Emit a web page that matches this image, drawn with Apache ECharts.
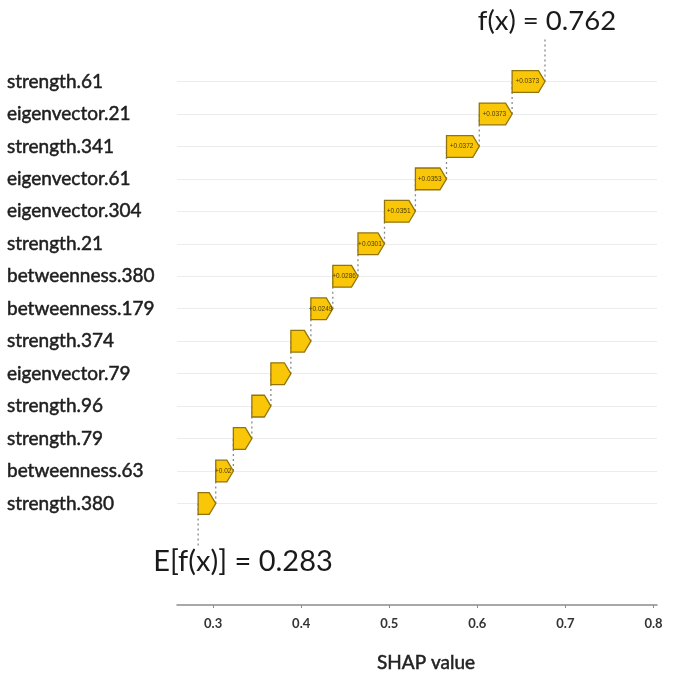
<!DOCTYPE html>
<html>
<head>
<meta charset="utf-8">
<script src="https://cdn.jsdelivr.net/npm/echarts@6/dist/echarts.min.js"></script>
<style>
  html, body { margin: 0; padding: 0; background: #ffffff; }
  #chart { width: 679px; height: 685px; }
</style>
</head>
<body>
<div id="chart"></div>
<script>
// Feature names, top row first
const features = [
  'strength.61', 'eigenvector.21', 'strength.341', 'eigenvector.61',
  'eigenvector.304', 'strength.21', 'betweenness.380', 'betweenness.179',
  'strength.374', 'eigenvector.79', 'strength.96', 'strength.79',
  'betweenness.63', 'strength.380'
];
// SHAP contribution of each feature (same order)
const contributions = [
  0.0373, 0.0373, 0.0372, 0.0353,
  0.0351, 0.0301, 0.0286, 0.0249,
  0.0227, 0.0227, 0.0216, 0.0210,
  0.0200, 0.0200
];
// Label text printed inside each arrow ('' = none)
const barLabels = [
  '+0.0373', '+0.0373', '+0.0372', '+0.0353',
  '+0.0351', '+0.0301', '+0.0286', '+0.0249',
  '', '', '', '',
  '+0.02', ''
];
const baseValue = 0.283;      // E[f(x)]
const outputValue = 0.762;    // f(x) as printed
const xTicks = [0.3, 0.4, 0.5, 0.6, 0.7, 0.8];

// Running start/end for each feature, accumulated from the bottom row up
const starts = new Array(features.length);
const ends = new Array(features.length);
let acc = baseValue;
for (let i = features.length - 1; i >= 0; i--) {
  starts[i] = acc;
  acc += contributions[i];
  ends[i] = acc;
}
const rows = features.map((f, i) => [i, starts[i], ends[i], barLabels[i]]);

const chart = echarts.init(document.getElementById('chart'));
const FONT = 'Lato, "Noto Sans", sans-serif';

function renderArrow(params, api) {
  const idx = api.value(0);
  const p0 = api.coord([api.value(1), idx]);
  const p1 = api.coord([api.value(2), idx]);
  const band = api.size([0, 1])[1];
  const h = band * 0.67;
  const tip = 6.5;
  const y = p0[1];
  const x0 = p0[0], x1 = p1[0];
  const children = [{
    type: 'polygon',
    shape: { points: [
      [x0, y - h / 2], [x1 - tip, y - h / 2], [x1, y],
      [x1 - tip, y + h / 2], [x0, y + h / 2]
    ] },
    style: { fill: '#FAC708', stroke: '#93740A', lineWidth: 1.3 }
  }];
  const txt = rows[params.dataIndex][3];
  if (txt) {
    children.push({
      type: 'text',
      style: {
        text: txt, x: (x0 + x1 - tip * 0.4) / 2, y: y,
        align: 'center', verticalAlign: 'middle',
        fontSize: 6.5, fontFamily: 'Arial, sans-serif', fill: '#4a3a00'
      }
    });
  }
  return { type: 'group', children: children };
}

function renderConnector(params, api) {
  const idx = api.value(0);
  const last = features.length - 1;
  const pEnd = api.coord([api.value(2), idx]);
  const band = api.size([0, 1])[1];
  const dash = { stroke: '#8a8a8a', lineWidth: 1.3, lineDash: [2, 3] };
  const children = [];
  // link the tip of this arrow to the row above (or up to the f(x) label)
  const yTop = idx === 0 ? pEnd[1] - 42 : pEnd[1] - band;
  children.push({ type: 'line', shape: { x1: pEnd[0], y1: pEnd[1], x2: pEnd[0], y2: yTop }, style: dash });
  if (idx === last) {
    const pStart = api.coord([api.value(1), idx]);
    children.push({ type: 'line', shape: { x1: pStart[0], y1: pStart[1], x2: pStart[0], y2: pStart[1] + 42 }, style: dash });
    children.push({
      type: 'text',
      style: {
        text: 'E[f(x)] = ' + baseValue.toFixed(3), x: pStart[0] - 45, y: pStart[1] + 58,
        align: 'left', verticalAlign: 'middle',
        fontSize: 29, fontFamily: FONT, fill: '#1a1a1a'
      }
    });
  }
  if (idx === 0) {
    children.push({
      type: 'text',
      style: {
        text: 'f(x) = ' + outputValue.toFixed(3), x: pEnd[0] + 2, y: pEnd[1] - 60,
        align: 'center', verticalAlign: 'middle',
        fontSize: 27.5, fontFamily: FONT, fill: '#1a1a1a'
      }
    });
  }
  return { type: 'group', children: children };
}

chart.setOption({
  animation: false,
  backgroundColor: '#ffffff',
  grid: { left: 177, right: 22, top: 81.5, bottom: 181.5, containLabel: false },
  xAxis: {
    type: 'value',
    min: 0.259,
    max: 0.804,
    offset: 101.5,
    name: 'SHAP value',
    nameLocation: 'middle',
    nameGap: 48,
    nameTextStyle: {
      fontFamily: FONT, fontSize: 19, color: '#222',
      textBorderColor: '#222', textBorderWidth: 0.5,
      padding: [0, 0, 0, 18]
    },
    axisLine: { show: true, lineStyle: { color: '#8c8c8c', width: 1.5 } },
    axisTick: { show: true, length: 3, lineStyle: { color: '#8c8c8c' }, customValues: xTicks },
    axisLabel: {
      customValues: xTicks,
      formatter: v => v.toFixed(1),
      fontFamily: FONT, fontSize: 13, fontWeight: 'bold', color: '#333', margin: 12
    },
    splitLine: { show: false }
  },
  yAxis: {
    type: 'category',
    data: features,
    inverse: true,
    boundaryGap: false,
    axisLine: { show: false },
    axisTick: { show: false },
    axisLabel: {
      align: 'left', margin: 170,
      fontFamily: FONT, fontSize: 19, color: '#1e1e1e',
      textBorderColor: '#1e1e1e', textBorderWidth: 0.5
    },
    splitLine: { show: true, lineStyle: { color: '#ececec', width: 1 } }
  },
  series: [
    {
      type: 'custom',
      name: 'connectors',
      renderItem: renderConnector,
      encode: { x: [1, 2], y: 0 },
      data: rows,
      z: 1,
      silent: true
    },
    {
      type: 'custom',
      name: 'contributions',
      renderItem: renderArrow,
      encode: { x: [1, 2], y: 0 },
      data: rows,
      z: 2
    }
  ]
});
</script>
</body>
</html>
